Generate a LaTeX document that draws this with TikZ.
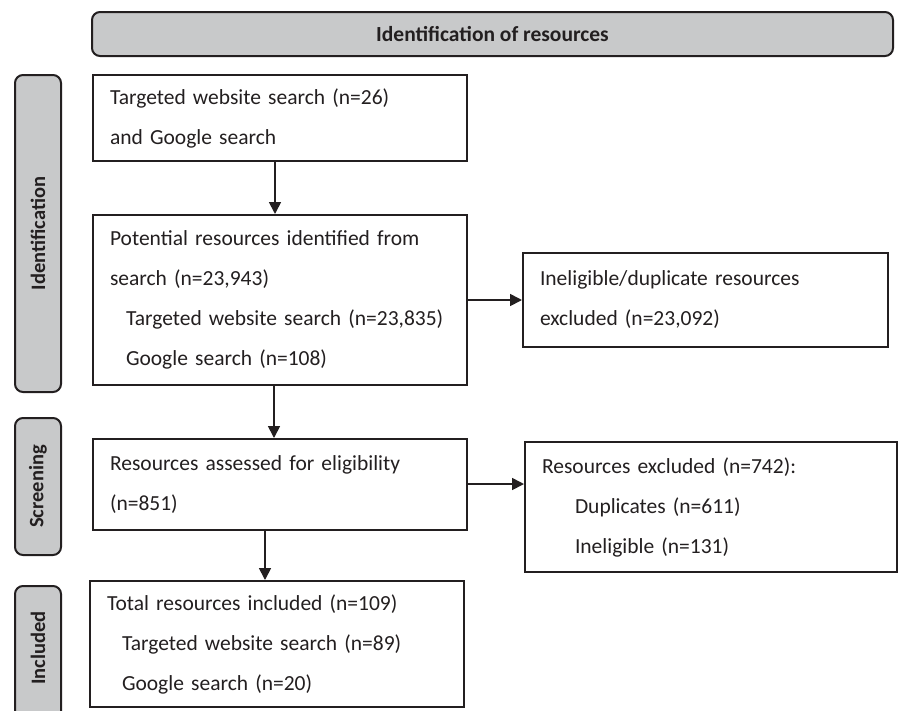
\documentclass[tikz,border=0pt]{standalone}
\usepackage{fontspec}
\setmainfont{Carlito}
\usetikzlibrary{arrows.meta}
\definecolor{ink}{HTML}{231F20}
\definecolor{bargray}{HTML}{C8C9CA}
\begin{document}
\begin{tikzpicture}[x=1pt,y=-1pt,
  box/.style={draw=ink, line width=2pt, align=left, inner xsep=17pt, inner ysep=0pt,
    font=\fontsize{21.5}{40}\selectfont, text=ink},
  bar/.style={draw=ink, line width=2pt, fill=bargray, rounded corners=8pt, inner sep=0pt},
  bartext/.style={font=\fontsize{20.5}{24}\selectfont\bfseries, text=ink, inner sep=0pt},
  arr/.style={draw=ink, line width=1.7pt, -{Triangle[length=12pt,width=12pt]}}]
\useasboundingbox (0,0) rectangle (899,710);
\clip (0,0) rectangle (899,710);
\fill[white] (0,0) rectangle (899,710);
% banner
\node[bar, minimum width=801pt, minimum height=44pt, font=\fontsize{21.5}{24}\selectfont\bfseries, text=ink] (top) at (492.5,34) {Identification of resources};
% side bars
\node[bar, rotate=90, minimum width=317pt, minimum height=46pt] (idbar) at (38,233.5) {};
\node[bartext, rotate=90] (idtext) at (idbar.center) {Identification};
\node[bar, rotate=90, minimum width=137pt, minimum height=46pt] (scbar) at (38,486.5) {};
\node[bartext, rotate=90] (sctext) at (scbar.center) {Screening};
\node[bar, rotate=90, minimum width=140pt, minimum height=46pt] (inbar) at (38,656) {};
\node[bartext, rotate=90] (intext) at (38,648) {Included};
% boxes
\node[box, text width=340pt, minimum height=86pt] (b1) at (280,118)
  {Targeted website search (n=26)\\and Google search};
\node[box, text width=340pt, minimum height=170pt] (b2) at (280,300)
  {Potential resources identified from\\search (n=23,943)\\\hspace*{16pt}Targeted website search (n=23,835)\\\hspace*{16pt}Google search (n=108)};
\node[box, text width=340pt, minimum height=91pt] (b3) at (280,484.5)
  {Resources assessed for eligibility\\(n=851)};
\node[box, text width=340pt, minimum height=126pt] (b4) at (277,644)
  {Total resources included (n=109)\\\hspace*{15pt}Targeted website search (n=89)\\\hspace*{15pt}Google search (n=20)};
\node[box, text width=331pt, minimum height=94pt] (b5) at (705.5,300)
  {Ineligible/duplicate resources\\excluded (n=23,092)};
\node[box, text width=338pt, minimum height=130pt] (b6) at (711,507)
  {Resources excluded (n=742):\\\hspace*{33pt}Duplicates (n=611)\\\hspace*{33pt}Ineligible (n=131)};
% connectors
\coordinate (ax1) at (275,0);
\coordinate (ax2) at (274,0);
\coordinate (ax3) at (265,0);
\coordinate (ay3) at (0,484);
\draw[arr] (b1.south -| ax1) -- (b2.north -| ax1);
\draw[arr] (b2.south -| ax2) -- (b3.north -| ax2);
\draw[arr] (b3.south -| ax3) -- (b4.north -| ax3);
\draw[arr] (b2.east) -- (b5.west);
\draw[arr] (b3.east |- ay3) -- (b6.west |- ay3);
\end{tikzpicture}
\end{document}
